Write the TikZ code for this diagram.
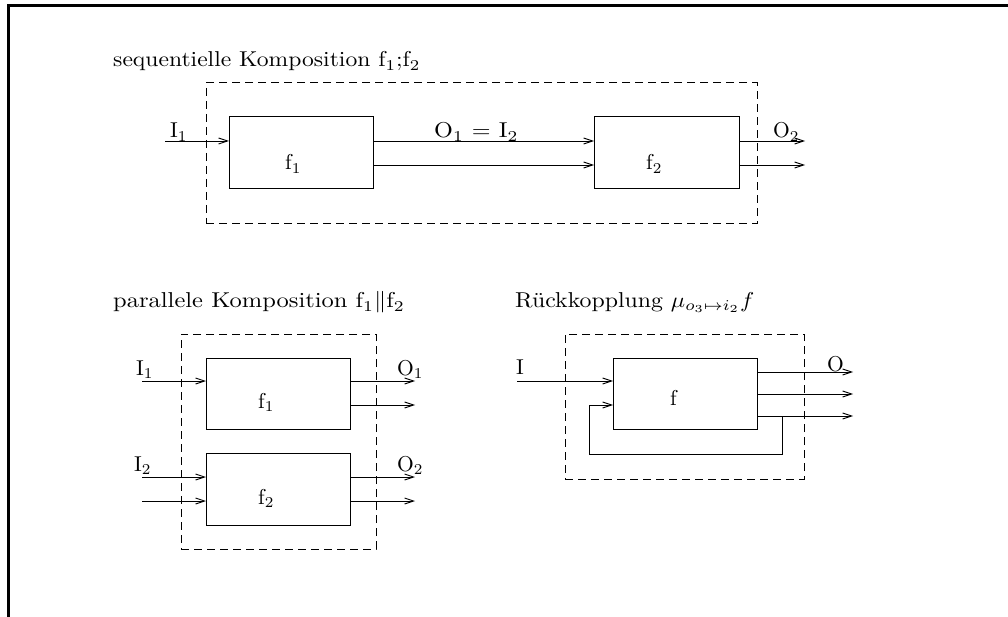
\documentclass[tikz,border=0pt]{standalone}
\usepackage{graphicx}
\usetikzlibrary{arrows.meta,calc}
\newcommand\tx[1]{\scalebox{2.15}{\fontsize{10}{12}\selectfont #1}}
\newcommand\twide[2][2.42]{\scalebox{#1}[2.15]{\fontsize{10}{12}\selectfont #2}}
\begin{document}
\begin{tikzpicture}[x=1pt,y=-1pt,
  ttl/.style={anchor=base west, inner sep=0},
  lbl/.style={anchor=base west, inner sep=0},
  blbl/.style={anchor=base west, inner sep=0},
  blk/.style={draw, line width=1pt, inner sep=0, outer sep=0},
  dbox/.style={draw, line width=1pt, dash pattern=on 8pt off 5pt, inner sep=0, outer sep=0},
  arr/.style={line width=0.9pt, -{Straight Barb[length=9pt,width=6pt]}},
  wire/.style={line width=0.9pt}]
\useasboundingbox (0,0) rectangle (1008,617);
% frame
\draw[line width=3pt, line join=miter] (8,617) -- (8,6) -- (1008,6);

% ---------- sequential composition ----------
\node[ttl] (t1) at (113,67) {\twide[2.36]{sequentielle Komposition f$_1$;f$_2$}};
\node[dbox, minimum width=551pt, minimum height=141pt] (sd) at (481.5,153.5) {};
\node[blk, minimum width=144pt, minimum height=72pt] (sf1) at (301,153) {};
\node[blk, minimum width=145pt, minimum height=72pt] (sf2) at (666.5,153) {};
\node[blbl] (sf1l) at (285,170) {\tx{f$_1$}};
\node[blbl] (sf2l) at (646,170) {\tx{f$_2$}};
\coordinate (si) at (165,141);
\coordinate (sa) at (0,141);
\coordinate (sb) at (0,165);
\coordinate (so1) at (805,141);
\coordinate (so2) at (805,165);
\draw[arr] (si) -- (si -| sf1.west);
\draw[arr] (sf1.east |- sa) -- (sf2.west |- sa);
\draw[arr] (sf1.east |- sb) -- (sf2.west |- sb);
\draw[arr] (sf2.east |- so1) -- (so1);
\draw[arr] (sf2.east |- so2) -- (so2);
\node[lbl] (sI1) at (170,138) {\tx{I$_1$}};
\node[lbl] (sO1) at (434,138) {\twide{O$_1$ = I$_2$}};
\node[lbl] (sO2) at (773,138) {\tx{O$_2$}};

% ---------- parallel composition ----------
\node[ttl] (t2) at (113,308) {\twide[2.45]{parallele Komposition f$_1\|$f$_2$}};
\node[dbox, minimum width=195pt, minimum height=215pt] (pd) at (278.5,441.5) {};
\node[blk, minimum width=144pt, minimum height=71pt] (pf1) at (278,393.5) {};
\node[blk, minimum width=144pt, minimum height=72pt] (pf2) at (278,489) {};
\node[blbl] (pf1l) at (258,408) {\tx{f$_1$}};
\node[blbl] (pf2l) at (258,504) {\tx{f$_2$}};
\coordinate (pi1) at (142,381);
\coordinate (pi2) at (142,477);
\coordinate (pi3) at (142,501);
\coordinate (po1) at (415,381);
\coordinate (po2) at (415,405);
\coordinate (po3) at (415,477);
\coordinate (po4) at (415,501);
\draw[arr] (pi1) -- (pi1 -| pf1.west);
\draw[arr] (pi2) -- (pi2 -| pf2.west);
\draw[arr] (pi3) -- (pi3 -| pf2.west);
\draw[arr] (pf1.east |- po1) -- (po1);
\draw[arr] (pf1.east |- po2) -- (po2);
\draw[arr] (pf2.east |- po3) -- (po3);
\draw[arr] (pf2.east |- po4) -- (po4);
\node[lbl] (pI1) at (136,375) {\tx{I$_1$}};
\node[lbl] (pI2) at (134,471) {\tx{I$_2$}};
\node[lbl] (pO1) at (397,375) {\tx{O$_1$}};
\node[lbl] (pO2) at (397,471) {\tx{O$_2$}};

% ---------- feedback ----------
\node[ttl] (t3) at (515,307) {\twide[2.38]{R\"uckkopplung $\mu_{o_3\mapsto i_2}f$}};
\node[dbox, minimum width=239pt, minimum height=145pt] (fd) at (684.5,406.5) {};
\node[blk, minimum width=144pt, minimum height=71pt] (ff) at (685,393.5) {};
\node[blbl] (ffl) at (670,405) {\tx{f}};
\coordinate (fi) at (517,381);
\coordinate (fo1) at (853,372);
\coordinate (fo2) at (853,394);
\coordinate (fo3) at (853,416);
\coordinate (fb) at (782,416);
\coordinate (fbd) at (782,454);
\coordinate (fbl) at (589,454);
\coordinate (fbu) at (589,405);
\draw[arr] (fi) -- (fi -| ff.west);
\draw[arr] (ff.east |- fo1) -- (fo1);
\draw[arr] (ff.east |- fo2) -- (fo2);
\draw[arr] (ff.east |- fo3) -- (fo3);
\draw[arr] (fb) -- (fbd) -- (fbl) -- (fbu) -- (fbu -| ff.west);
\node[lbl] (fI) at (516,374) {\tx{I}};
\node[lbl] (fO) at (827,371) {\tx{O}};
\end{tikzpicture}
\end{document}
